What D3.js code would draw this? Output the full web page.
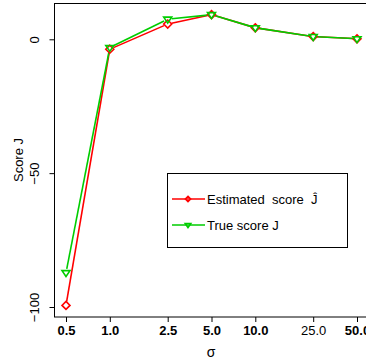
<!DOCTYPE html>
<html>
<head>
<meta charset="utf-8">
<script src="https://cdn.jsdelivr.net/npm/d3@7"></script>
<style>
  body { margin: 0; background: #fff; }
  svg { display: block; font-family: "Liberation Sans", Arial, sans-serif; }
</style>
</head>
<body>
<script>
// sigma values and the two score series
var sigmas = [0.5, 1.0, 2.5, 5.0, 10.0, 25.0, 50.0];
var sigmaLabels = ["0.5", "1.0", "2.5", "5.0", "10.0", "25.0", "50.0"];
var estimated = [-99.4, -3.7, 5.7, 9.2, 4.3, 1.0, 0.2];
var trueScore = [-87.2, -3.1, 7.5, 9.2, 4.3, 1.0, 0.2];
var yTicks = [0, -50, -100];
var legendLabels = ["Estimated  score  \u0134", "True score J"];

var width = 366, height = 360;
var red = "#ff0000", green = "#00cd00";

var svg = d3.select("body").append("svg")
    .attr("width", width)
    .attr("height", height);

var x = d3.scaleLog().domain([0.5, 50]).range([66, 357]);
var y = d3.scaleLinear().domain([-100, 0]).range([307, 39.3]);

// plot box (right side runs off the window)
svg.append("rect")
    .attr("x", 54.5).attr("y", 3.5)
    .attr("width", 330).attr("height", 313.5)
    .attr("fill", "none").attr("stroke", "#000").attr("stroke-width", 1);

// x axis
var xAxis = svg.append("g").attr("transform", "translate(0,317)");
xAxis.call(d3.axisBottom(x).tickValues(sigmas).tickSize(5).tickSizeOuter(0)
    .tickFormat(function (d, i) { return sigmaLabels[i]; }));
xAxis.select(".domain").remove();
xAxis.selectAll("text")
    .attr("font-size", 13)
    .attr("font-family", "Liberation Sans, Arial, sans-serif")
    .attr("font-weight", function (d) { return d == 25 ? "normal" : "bold"; })
    .attr("y", 9).attr("dy", "0.71em");

// y axis
var yAxis = svg.append("g").attr("transform", "translate(54.5,0)");
yAxis.call(d3.axisLeft(y).tickValues(yTicks).tickSize(5).tickSizeOuter(0)
    .tickFormat(function (d) { return d3.format("")(d).replace("-", "\u2212"); }));
yAxis.select(".domain").attr("d", "M0," + y(-100) + "V" + y(0));
yAxis.selectAll("text")
    .attr("font-size", 13)
    .attr("font-family", "Liberation Sans, Arial, sans-serif")
    .attr("x", null).attr("dy", null)
    .attr("text-anchor", "middle")
    .attr("transform", "translate(-16,0) rotate(-90)");

// axis titles
svg.append("text")
    .attr("transform", "translate(23," + 160 + ") rotate(-90)")
    .attr("text-anchor", "middle")
    .attr("font-size", 13)
    .text("Score J");

svg.append("text")
    .attr("x", 211).attr("y", 357)
    .attr("text-anchor", "middle")
    .attr("font-size", 14)
    .text("\u03c3");

// lines with gaps at the points (type = "b")
function drawSeries(vals, color) {
    var pts = sigmas.map(function (s, i) { return [x(s), y(vals[i])]; });
    var gap = 4;
    for (var i = 0; i < pts.length - 1; i++) {
        var a = pts[i], b = pts[i + 1];
        var dx = b[0] - a[0], dy = b[1] - a[1];
        var len = Math.sqrt(dx * dx + dy * dy);
        if (len <= 2 * gap) continue;
        var ux = dx / len, uy = dy / len;
        svg.append("line")
            .attr("x1", a[0] + ux * gap).attr("y1", a[1] + uy * gap)
            .attr("x2", b[0] - ux * gap).attr("y2", b[1] - uy * gap)
            .attr("stroke", color).attr("stroke-width", 1.6);
    }
}

function diamond(g, cx, cy, r) {
    g.append("path")
        .attr("d", "M" + cx + "," + (cy - r) + "L" + (cx + r) + "," + cy +
              "L" + cx + "," + (cy + r) + "L" + (cx - r) + "," + cy + "Z")
        .attr("fill", "none").attr("stroke", red).attr("stroke-width", 1.6);
}

function triDown(g, cx, cy, r) {
    var h = r * 0.87;
    g.append("path")
        .attr("d", "M" + (cx - r) + "," + (cy - h * 0.6) + "L" + (cx + r) + "," + (cy - h * 0.6) +
              "L" + cx + "," + (cy + h * 1.1) + "Z")
        .attr("fill", "none").attr("stroke", green).attr("stroke-width", 1.6);
}

drawSeries(estimated, red);
drawSeries(trueScore, green);

var marks = svg.append("g");
sigmas.forEach(function (s, i) { diamond(marks, x(s), y(estimated[i]), 4); });
sigmas.forEach(function (s, i) { triDown(marks, x(s), y(trueScore[i]), 4); });

// legend
var legend = svg.append("g");
legend.append("rect")
    .attr("x", 167.5).attr("y", 173.5)
    .attr("width", 180).attr("height", 74)
    .attr("fill", "#fff").attr("stroke", "#000").attr("stroke-width", 1);

var legendColors = [red, green];
legendLabels.forEach(function (label, i) {
    var ly = 199 + i * 26;
    legend.append("line")
        .attr("x1", 172).attr("x2", 205).attr("y1", ly).attr("y2", ly)
        .attr("stroke", legendColors[i]).attr("stroke-width", 1.6);
    if (i == 0) diamond(legend, 188, ly, 2.6);
    else triDown(legend, 188, ly, 2.8);
    legend.append("text")
        .attr("x", 207).attr("y", ly + 5)
        .attr("font-size", 13)
        .attr("xml:space", "preserve")
        .style("white-space", "pre")
        .text(label);
});
</script>
</body>
</html>
